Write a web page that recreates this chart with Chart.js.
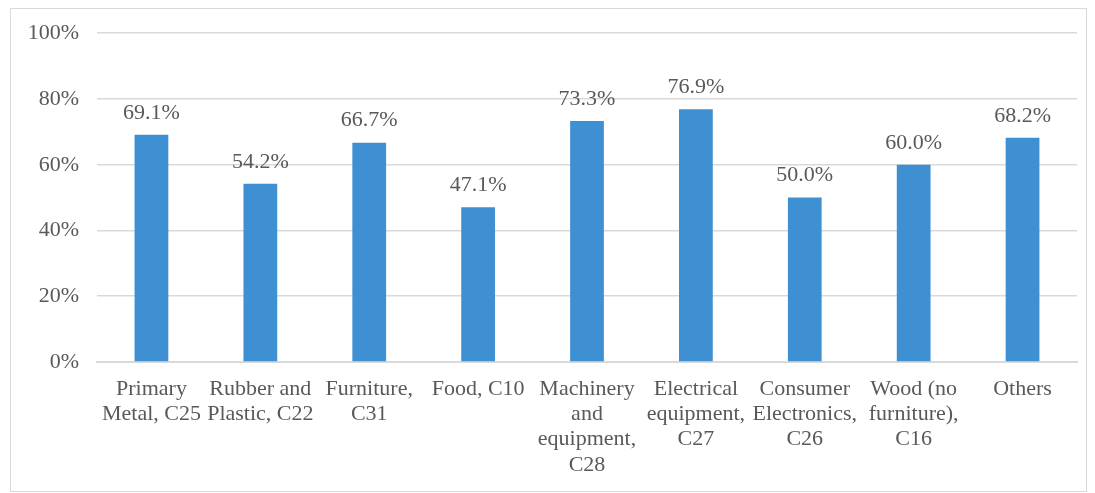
<!DOCTYPE html>
<html>
<head>
<meta charset="utf-8">
<script src="https://cdn.jsdelivr.net/npm/chart.js@4"></script>
<style>
  html, body { margin: 0; padding: 0; background: #fff; }
  #frame {
    position: absolute; left: 10px; top: 8px;
    width: 1077px; height: 484px;
    border: 1px solid #d9d9d9; box-sizing: border-box;
  }
  #box {
    position: absolute; left: 11px; top: 2px;
    width: 1075px; height: 490px;
  }
</style>
</head>
<body>
<div id="frame"></div>
<div id="box"><canvas id="chart"></canvas></div>
<script>
const categories = [
  ['Primary', 'Metal, C25'],
  ['Rubber and', 'Plastic, C22'],
  ['Furniture,', 'C31'],
  'Food, C10',
  ['Machinery', 'and', 'equipment,', 'C28'],
  ['Electrical', 'equipment,', 'C27'],
  ['Consumer', 'Electronics,', 'C26'],
  ['Wood (no', 'furniture),', 'C16'],
  'Others'
];
const shares = [69.1, 54.2, 66.7, 47.1, 73.3, 76.9, 50.0, 60.0, 68.2];
const yTicks = [0, 20, 40, 60, 80, 100];

const serif = '"Liberation Serif", "Times New Roman", serif';
const grey = '#595959';

// value labels above each bar
const barLabels = {
  id: 'barLabels',
  afterDatasetsDraw(chart) {
    const ctx = chart.ctx;
    const meta = chart.getDatasetMeta(0);
    ctx.save();
    ctx.font = '22px ' + serif;
    ctx.fillStyle = grey;
    ctx.textAlign = 'center';
    ctx.textBaseline = 'middle';
    meta.data.forEach(function (bar, i) {
      ctx.fillText(shares[i].toFixed(1) + '%', bar.x, bar.y - 22);
    });
    ctx.restore();
  }
};

new Chart(document.getElementById('chart'), {
  type: 'bar',
  data: {
    labels: categories,
    datasets: [{
      data: shares,
      backgroundColor: '#3f8fd3',
      barPercentage: 0.31,
      categoryPercentage: 1
    }]
  },
  options: {
    responsive: true,
    maintainAspectRatio: false,
    animation: false,
    layout: { padding: { top: 0, right: 9, left: 0, bottom: 0 } },
    plugins: { legend: { display: false }, tooltip: { enabled: false } },
    scales: {
      y: {
        min: 0, max: 100,
        afterBuildTicks(axis) { axis.ticks = yTicks.map(v => ({ value: v })); },
        afterFit(axis) { axis.width = 86; },
        ticks: {
          callback: v => v + '%',
          color: grey,
          font: { family: serif, size: 22 },
          padding: 18
        },
        grid: { color: '#d9d9d9', lineWidth: 1.5, drawTicks: false },
        border: { display: false }
      },
      x: {
        afterFit(axis) { axis.height = 130; },
        ticks: {
          color: grey,
          font: { family: serif, size: 22, lineHeight: 1.14 },
          maxRotation: 0,
          autoSkip: false,
          padding: 15
        },
        grid: { display: false, drawTicks: false },
        border: { color: '#d9d9d9', width: 2 }
      }
    }
  },
  plugins: [barLabels]
});
</script>
</body>
</html>
